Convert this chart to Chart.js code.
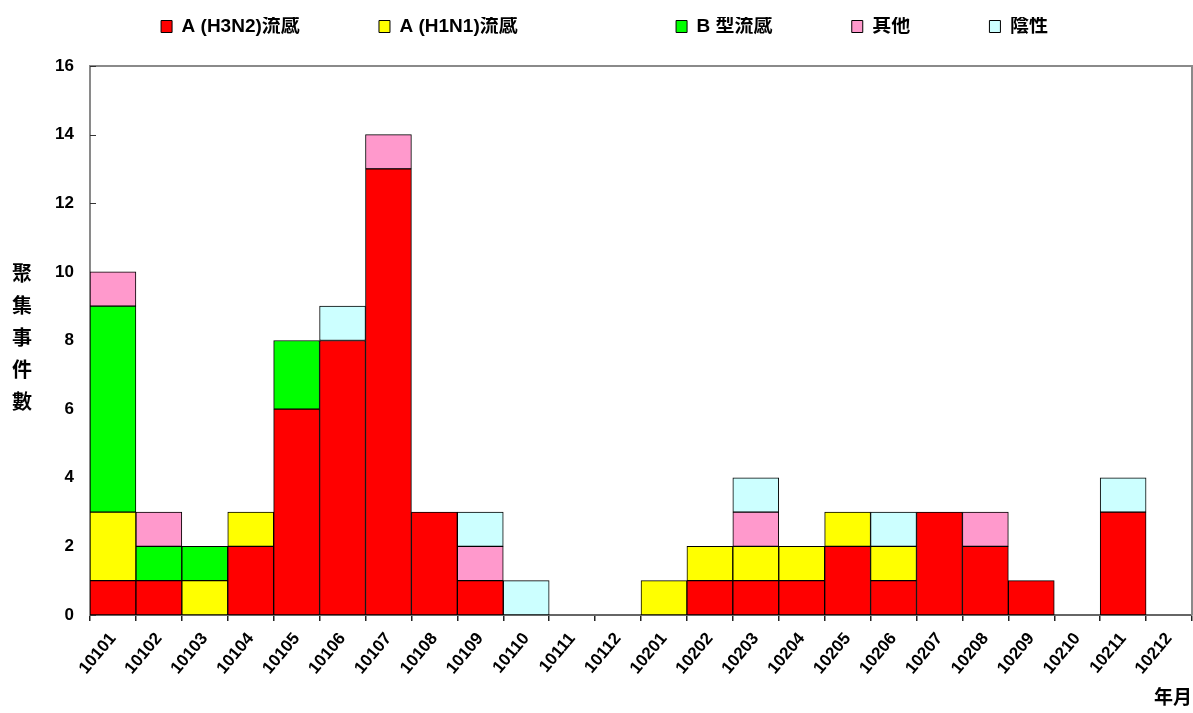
<!DOCTYPE html>
<html><head><meta charset="utf-8">
<script src="https://cdn.jsdelivr.net/npm/chart.js@4.4.1/dist/chart.umd.min.js"></script>
<style>html,body{margin:0;padding:0;background:#fff}#wrap{width:1193px;height:713px}canvas{display:block}</style>
</head><body><div id="wrap"><canvas id="c" width="1193" height="713"></canvas></div>
<script>
const categories = ['10101','10102','10103','10104','10105','10106','10107','10108','10109','10110','10111','10112',
                    '10201','10202','10203','10204','10205','10206','10207','10208','10209','10210','10211','10212'];
const seriesNames = ['A (H3N2)流感','A (H1N1)流感','B 型流感','其他','陰性'];
const h3n2     = [1,1,0,2,6,8,13,3,1,0,0,0, 0,1,1,1,2,1,3,2,1,0,3,0];
const h1n1     = [2,0,1,1,0,0,0,0,0,0,0,0, 1,1,1,1,1,1,0,0,0,0,0,0];
const fluB     = [6,1,1,0,2,0,0,0,0,0,0,0, 0,0,0,0,0,0,0,0,0,0,0,0];
const others   = [1,1,0,0,0,0,1,0,1,0,0,0, 0,0,1,0,0,0,0,1,0,0,0,0];
const negative = [0,0,0,0,0,1,0,0,1,1,0,0, 0,0,1,0,0,1,0,0,0,0,1,0];
const yTicks = [0,2,4,6,8,10,12,14,16];
const yTitle = '聚集事件數';
const xTitle = '年月';
const colors = ['#FF0000','#FFFF00','#00FF00','#FF99CC','#CCFFFF'];

const FAM = "'Liberation Sans', Arial, 'Noto Sans CJK TC', sans-serif";
const CJK = "'Noto Sans CJK TC', 'Liberation Sans', sans-serif";
const LEGEND_SIZE = 19;
const legendFont = {family: FAM, size: LEGEND_SIZE, weight: 'bold'};
// horizontal distance from one legend box to the next
const legendSteps = [218, 296, 177, 137];

const series = [h3n2, h1n1, fluB, others, negative];
const datasets = series.map((arr, i) => ({
  label: seriesNames[i],
  data: arr.map(v => v === 0 ? null : v),
  backgroundColor: colors[i],
  borderColor: '#000',
  borderWidth: 1,
  borderSkipped: false,
  barPercentage: 1,
  categoryPercentage: 1
}));

const legendGap = {
  id: 'legendGap',
  beforeInit(chart) {
    const orig = chart.legend.fit;
    chart.legend.fit = function () { orig.call(this); this.height += 20; };
  }
};

const decor = {
  id: 'decor',
  beforeDatasetsDraw(chart) {
    const {ctx, chartArea: a, scales} = chart;
    ctx.save();
    ctx.strokeStyle = '#8a8a8a';
    ctx.lineWidth = 2;
    ctx.beginPath();
    ctx.moveTo(a.left, a.top); ctx.lineTo(a.right, a.top); ctx.lineTo(a.right, a.bottom);
    ctx.stroke();
    ctx.strokeStyle = '#333';
    ctx.lineWidth = 1;
    yTicks.forEach(v => {
      const y = Math.round(scales.y.getPixelForValue(v)) + 0.5;
      ctx.beginPath(); ctx.moveTo(a.left, y); ctx.lineTo(a.left + 6, y); ctx.stroke();
    });
    ctx.restore();
  },
  afterDraw(chart) {
    const {ctx} = chart;
    ctx.save();
    ctx.fillStyle = '#000';
    ctx.font = "bold 20px " + CJK;
    ctx.textAlign = 'center';
    ctx.textBaseline = 'middle';
    Array.from(yTitle).forEach((ch, i) => ctx.fillText(ch, 22, 273 + i * 32));
    ctx.restore();
  }
};

new Chart(document.getElementById('c'), {
  type: 'bar',
  data: {labels: categories, datasets},
  plugins: [legendGap, decor],
  options: {
    responsive: false,
    animation: false,
    devicePixelRatio: 1,
    layout: {padding: {top: 17, right: 1, left: 17, bottom: 0}},
    plugins: {
      tooltip: {enabled: false},
      legend: {
        position: 'top',
        labels: {
          boxWidth: 11, boxHeight: 12, padding: 0, color: '#000', font: legendFont,
          generateLabels(chart) {
            const items = Chart.defaults.plugins.legend.labels.generateLabels(chart);
            const ctx = chart.ctx;
            ctx.save();
            ctx.font = 'bold ' + LEGEND_SIZE + 'px ' + FAM;
            items.forEach((it, i) => {
              if (i < legendSteps.length) {
                const slot = legendSteps[i] - 11 - LEGEND_SIZE / 2;
                let t = it.text;
                while (ctx.measureText(t + ' ').width <= slot + 2.5) t += ' ';
                it.text = t;
              }
              it.lineWidth = 1;
              it.strokeStyle = '#000';
            });
            ctx.restore();
            return items;
          }
        }
      }
    },
    scales: {
      x: {
        stacked: true,
        offset: true,
        grid: {display: true, offset: true, drawOnChartArea: false, drawTicks: true, tickLength: 6, color: '#222', lineWidth: 1.5},
        border: {display: true, color: '#666', width: 2},
        ticks: {autoSkip: false, minRotation: 50, maxRotation: 50, color: '#000', padding: 8,
                font: {family: FAM, size: 17, weight: 'bold'}},
        title: {display: true, text: xTitle, align: 'end', color: '#000',
                font: {family: CJK, size: 19, weight: 'bold'}, padding: {top: 0, bottom: 5}},
        afterFit(s) { s.height = 98; }
      },
      y: {
        stacked: true,
        min: 0, max: 16,
        afterBuildTicks(s) { s.ticks = yTicks.map(v => ({value: v})); },
        grid: {display: false, drawTicks: false},
        border: {display: true, color: '#8a8a8a', width: 2},
        ticks: {color: '#000', padding: 16, font: {family: FAM, size: 17, weight: 'bold'}},
        afterFit(s) { s.width = 73; }
      }
    }
  }
});
</script></body></html>
